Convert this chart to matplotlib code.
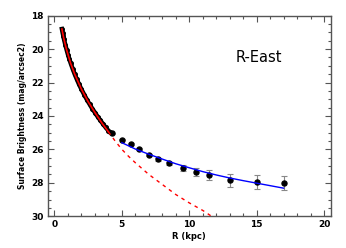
import matplotlib
matplotlib.use("Agg")
import matplotlib.pyplot as plt
from matplotlib.ticker import MultipleLocator

# inner (dense) profile
r_in = [0.55, 0.6, 0.65, 0.7, 0.8, 0.9, 1.0, 1.1, 1.2, 1.35, 1.5, 1.65, 1.8, 2.0,
        2.2, 2.4, 2.6, 2.8, 3.0, 3.2, 3.4, 3.6, 3.8, 4.0, 4.1]
mu_in = [18.80, 19.01, 19.20, 19.39, 19.73, 20.04, 20.33, 20.59, 20.84, 21.18, 21.50,
         21.79, 22.07, 22.41, 22.72, 23.02, 23.29, 23.56, 23.80, 24.04, 24.26, 24.48,
         24.69, 24.88, 24.96]

# outer profile with errors
r_out = [4.3, 5.0, 5.7, 6.3, 7.0, 7.7, 8.5, 9.5, 10.5, 11.5, 13.0, 15.0, 17.0]
mu_out = [25.05, 25.42, 25.67, 25.99, 26.33, 26.59, 26.83, 27.10, 27.38, 27.53, 27.86, 27.96, 28.00]
err_out = [0.03, 0.04, 0.05, 0.06, 0.07, 0.08, 0.10, 0.18, 0.24, 0.30, 0.38, 0.40, 0.42]

# Sersic fit (solid, inner range) and its extrapolation (dashed)
r_fit = [0.55, 0.7, 0.9, 1.2, 1.5, 2.0, 2.5, 3.0, 3.5, 4.0]
mu_fit = [18.80, 19.40, 20.05, 20.85, 21.50, 22.40, 23.15, 23.80, 24.40, 24.95]
r_ext = [4.0, 4.5, 5.0, 5.5, 6.0, 7.0, 8.0, 9.0, 10.0, 11.0, 11.65]
mu_ext = [24.95, 25.50, 26.00, 26.42, 26.80, 27.50, 28.10, 28.70, 29.20, 29.65, 30.00]

# outer (disc/halo) fit
r_blue = [5, 6, 7, 8, 9, 10, 11, 12, 13, 14, 15, 16, 17]
mu_blue = [25.60, 25.98, 26.29, 26.58, 26.86, 27.10, 27.33, 27.53, 27.71, 27.87, 28.02, 28.17, 28.32]

fig = plt.figure(figsize=(3.46, 2.48), dpi=100)
ax = fig.add_axes([0.138, 0.128, 0.818, 0.809])

ax.plot(r_in, mu_in, '-o', color='black', lw=3.2, ms=2.6, zorder=2)
ax.errorbar(r_out, mu_out, yerr=err_out, fmt='o', color='black', ms=3.6,
            ecolor='#888888', elinewidth=0.8, capsize=2, capthick=0.8, zorder=3)
ax.plot(r_fit, mu_fit, '-', color='#ff0000', lw=1.2, zorder=4)
ax.plot(r_ext, mu_ext, '--', color='#ff0000', lw=1.0, dashes=(2.5, 3), zorder=4)
ax.plot(r_blue, mu_blue, '-', color='#0000ff', lw=1.0, zorder=4)

ax.set_xlim(-0.5, 20.5)
ax.set_ylim(30, 18)
ax.xaxis.set_major_locator(MultipleLocator(5))
ax.xaxis.set_minor_locator(MultipleLocator(1))
ax.yaxis.set_major_locator(MultipleLocator(2))
ax.yaxis.set_minor_locator(MultipleLocator(0.5))
ax.tick_params(which='both', direction='in', top=True, right=True, color='#555555',
               labelsize=6.5, pad=3)
ax.tick_params(which='major', length=4, width=0.8)
ax.tick_params(which='minor', length=2, width=0.8)
for lab in ax.get_xticklabels() + ax.get_yticklabels():
    lab.set_fontweight('bold')
for s in ax.spines.values():
    s.set_color('#555555')
    s.set_linewidth(1.0)

ax.set_xlabel('R (kpc)', fontsize=6, fontweight='bold', labelpad=2)
ax.set_ylabel('Surface Brightness (mag/arcsec2)', fontsize=5.5, fontweight='bold', labelpad=3)
ax.text(0.665, 0.789, 'R-East', transform=ax.transAxes, fontsize=10.5, ha='left', va='center')

fig.savefig('out.png', dpi=100)
